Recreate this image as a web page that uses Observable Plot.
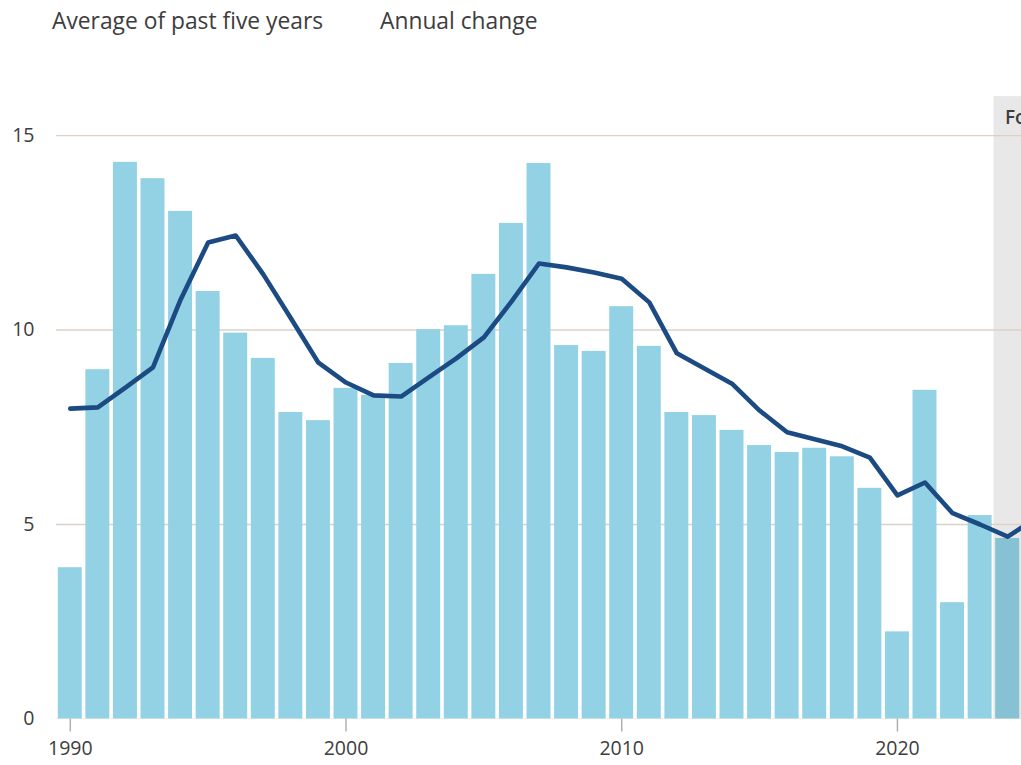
<!DOCTYPE html>
<html>
<head>
<meta charset="utf-8">
<script src="https://cdn.jsdelivr.net/npm/d3@7"></script>
<script src="https://cdn.jsdelivr.net/npm/@observablehq/plot@0.6"></script>
<style>
  html, body { margin: 0; padding: 0; background: #fff; overflow: hidden; }
  #legend { position: relative; height: 44px; font-family: "Open Sans", sans-serif; font-size: 22.8px; color: #3d3d3d; }
  #legend span { position: absolute; top: 5px; white-space: nowrap; }
  #chart svg { display: block; overflow: hidden; }
</style>
</head>
<body>
<div id="legend"></div>
<div id="chart"></div>
<script>
// Data
const years = [1990,1991,1992,1993,1994,1995,1996,1997,1998,1999,
               2000,2001,2002,2003,2004,2005,2006,2007,2008,2009,
               2010,2011,2012,2013,2014,2015,2016,2017,2018,2019,
               2020,2021,2022,2023,2024];
const annualChange = [3.89,8.98,14.31,13.89,13.05,10.99,9.92,9.27,7.88,7.67,
                      8.50,8.32,9.14,10.01,10.11,11.43,12.74,14.28,9.60,9.45,
                      10.60,9.58,7.88,7.80,7.42,7.03,6.85,6.96,6.74,5.93,
                      2.24,8.45,2.99,5.23,4.64];
const avgYears = [1990,1991,1992,1993,1994,1995,1996,1997,1998,1999,
                  2000,2001,2002,2003,2004,2005,2006,2007,2008,2009,
                  2010,2011,2012,2013,2014,2015,2016,2017,2018,2019,
                  2020,2021,2022,2023,2024,2025];
const fiveYearAvg = [7.98,8.01,8.52,9.04,10.78,12.25,12.43,11.43,10.30,9.16,
                     8.65,8.32,8.29,8.78,9.27,9.81,10.73,11.71,11.61,11.48,
                     11.32,10.71,9.40,9.01,8.62,7.93,7.37,7.19,7.01,6.72,
                     5.75,6.08,5.29,5.00,4.69,5.15];
const legendLabels = ["Average of past five years", "Annual change"];
const forecastStart = 2024;
const forecastLabel = "Forecast";
const yTicks = [0, 5, 10, 15];
const xTicks = [1990, 2000, 2010, 2020];

const bars = years.map((y, i) => ({year: y, value: annualChange[i]}));
const avg = avgYears.map((y, i) => ({year: y, value: fiveYearAvg[i]}));

// Legend
const legend = document.getElementById("legend");
[52, 380].forEach((left, i) => {
  const s = document.createElement("span");
  s.style.left = left + "px";
  s.textContent = legendLabels[i];
  legend.appendChild(s);
});

const font = "'Open Sans', sans-serif";
const plot = Plot.plot({
  width: 1021,
  height: 721,
  marginLeft: 56,
  marginRight: 0,
  marginTop: 91,
  marginBottom: 46.5,
  style: {fontFamily: font, fontSize: "19px", color: "#3d3d3d", background: "#fff", overflow: "hidden"},
  x: {type: "linear", domain: [1989.5, 2024.5], label: null},
  y: {domain: [0, 15], label: null},
  marks: [
    Plot.rect([{start: forecastStart - 0.5, end: forecastStart + 1.5}], {
      x1: "start", x2: "end", y1: 0, y2: 16, fill: "#e8e8e8"
    }),
    Plot.ruleY(yTicks, {stroke: "#dcd1c6", strokeWidth: 1.6, x1: 1989.45, x2: 2026, clip: true}),
    Plot.rectY(bars, {
      x1: d => d.year - 0.5, x2: d => d.year + 0.5, y: "value",
      insetLeft: 1.8, insetRight: 1.8,
      fill: d => d.year >= forecastStart ? "#86c1d4" : "#93d2e5"
    }),
    Plot.line(avg, {x: "year", y: "value", stroke: "#1c4a83", strokeWidth: 4.6,
      strokeLinejoin: "round", strokeLinecap: "round", clip: true}),
    Plot.text([forecastLabel], {
      x: forecastStart - 0.5, y: 16, dx: 11, dy: 21, text: d => d,
      textAnchor: "start", fontSize: 19, fontWeight: 600, fill: "#3d3d3d"
    }),
    Plot.axisX(xTicks, {
      tickFormat: "d", tickSize: 13, tickPadding: 9, stroke: "#b0b0b0",
      fontSize: 19.5, fill: "#3d3d3d", strokeWidth: 1.5, label: null
    }),
    Plot.axisY(yTicks, {
      tickSize: 0, tickPadding: 22, fontSize: 19.5, fill: "#3d3d3d", textAnchor: "end", label: null
    })
  ]
});
document.getElementById("chart").appendChild(plot);
</script>
</body>
</html>
